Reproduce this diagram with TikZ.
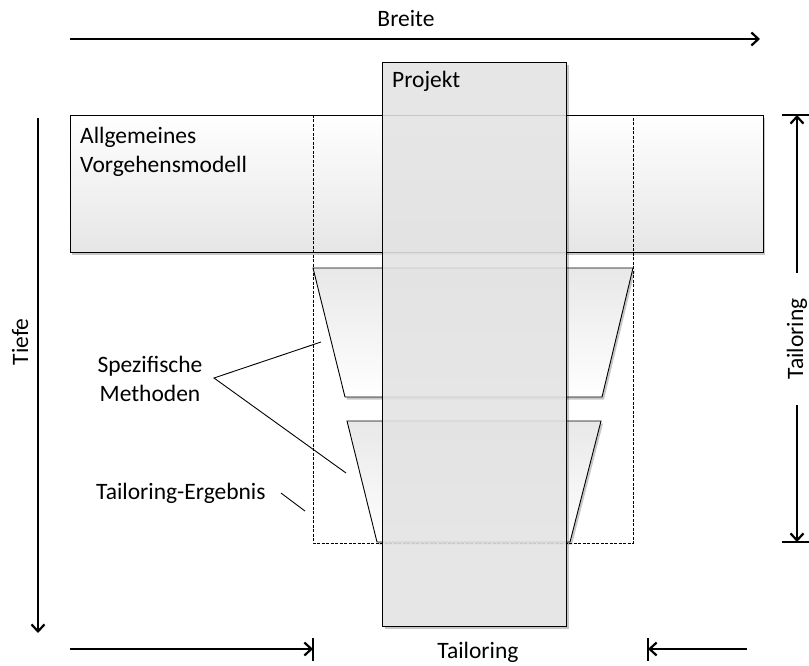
\documentclass[tikz,border=0pt]{standalone}
\usepackage{fontspec}
\setmainfont{Carlito}
\usetikzlibrary{arrows.meta,shadows}
\newcommand{\lblfont}{\fontsize{23.5}{28.5}\selectfont}
\begin{document}
\begin{tikzpicture}[x=1pt,y=-1pt,
  lbl/.style={font=\lblfont, inner sep=0pt},
  outline/.style={draw=black, line width=0.9pt},
  panel/.style={outline,
    drop shadow={shadow xshift=2pt, shadow yshift=-2.5pt, opacity=0.22, fill=black}},
  shade strip/.style={fill=black, fill opacity=0.22, draw=none},
  dimline/.style={line width=2.6pt},
  tip/.style={-{Straight Barb[length=7pt,width=13pt,line width=2.2pt]}},
]
\useasboundingbox (0,0) rectangle (809,666);

% general process model band
\node[panel, rectangle, inner sep=0pt, minimum width=693pt, minimum height=137pt,
  anchor=north west, top color=white, bottom color=black!10] (modell) at (70,115) {};
\node[lbl, anchor=base west, align=left] (modelltext) at (80,172)
  {Allgemeines\\Vorgehensmodell};

% specific methods (upper) and tailoring result (lower)
\path[panel, top color=black!9, bottom color=white]
  (313,268) -- (633,268) -- (602,397) -- (345,397) -- cycle;
\path[panel, top color=black!9, bottom color=white]
  (347,421) -- (601,421) -- (570,542) -- (377,542) -- cycle;

% tailoring frame
\draw[dashed, line width=0.8pt, dash pattern=on 3pt off 1.5pt] (313,115) rectangle (633,543);

% project column: translucent, with its shadow only outside the column
\fill[shade strip] (566,65) rectangle (568.5,628.5);
\fill[shade strip] (385,626) rectangle (566,628.5);
\node[outline, rectangle, inner sep=0pt, minimum width=184pt, minimum height=564pt,
  anchor=north west, fill=black!11, fill opacity=0.88] (projekt) at (382,62) {};
\node[lbl, anchor=base west] (projekttext) at (392,88) {Projekt};

% annotations
\node[lbl, align=center, anchor=base] (spez) at (150,401) {Spezifische\\Methoden};
\coordinate (apex) at (214,378);
\coordinate (spezA) at (321,342);
\coordinate (spezB) at (346,473);
\draw[line width=0.9pt] (spezA) -- (apex) -- (spezB);
\node[lbl, anchor=base west] (ergebnis) at (96,499) {Tailoring-Ergebnis};
\coordinate (ergA) at (281,493);
\coordinate (ergB) at (305,511);
\draw[line width=0.9pt] (ergA) -- (ergB);

% width axis
\node[lbl, anchor=base] (breite) at (406,27) {Breite};
\coordinate (bStart) at (70,39);
\coordinate (bEnd) at (760,39);
\draw[dimline, tip] (bStart) -- (bEnd);

% depth axis
\node[lbl, rotate=90] (tiefe) at (20,342) {Tiefe};
\coordinate (tStart) at (38,118);
\coordinate (tEnd) at (38,633);
\draw[dimline, tip] (tStart) -- (tEnd);

% vertical tailoring dimension
\node[lbl, rotate=90] (tailV) at (797,339) {Tailoring};
\coordinate (vTop) at (797,115);
\coordinate (vBot) at (797,542);
\draw[dimline] (782,115) -- (810,115);
\draw[dimline] (782,542) -- (810,542);
\draw[dimline, tip] (797,273) -- (vTop);
\draw[dimline, tip] (797,405) -- (vBot);

% horizontal tailoring dimension
\node[lbl, anchor=base] (tailH) at (478,658) {Tailoring};
\coordinate (hL) at (313,649);
\coordinate (hR) at (648,649);
\draw[dimline, tip] (70,649) -- (hL);
\draw[dimline] (313,638) -- (313,661);
\draw[dimline, tip] (747,649) -- (hR);
\draw[dimline] (648,638) -- (648,661);
\end{tikzpicture}
\end{document}
